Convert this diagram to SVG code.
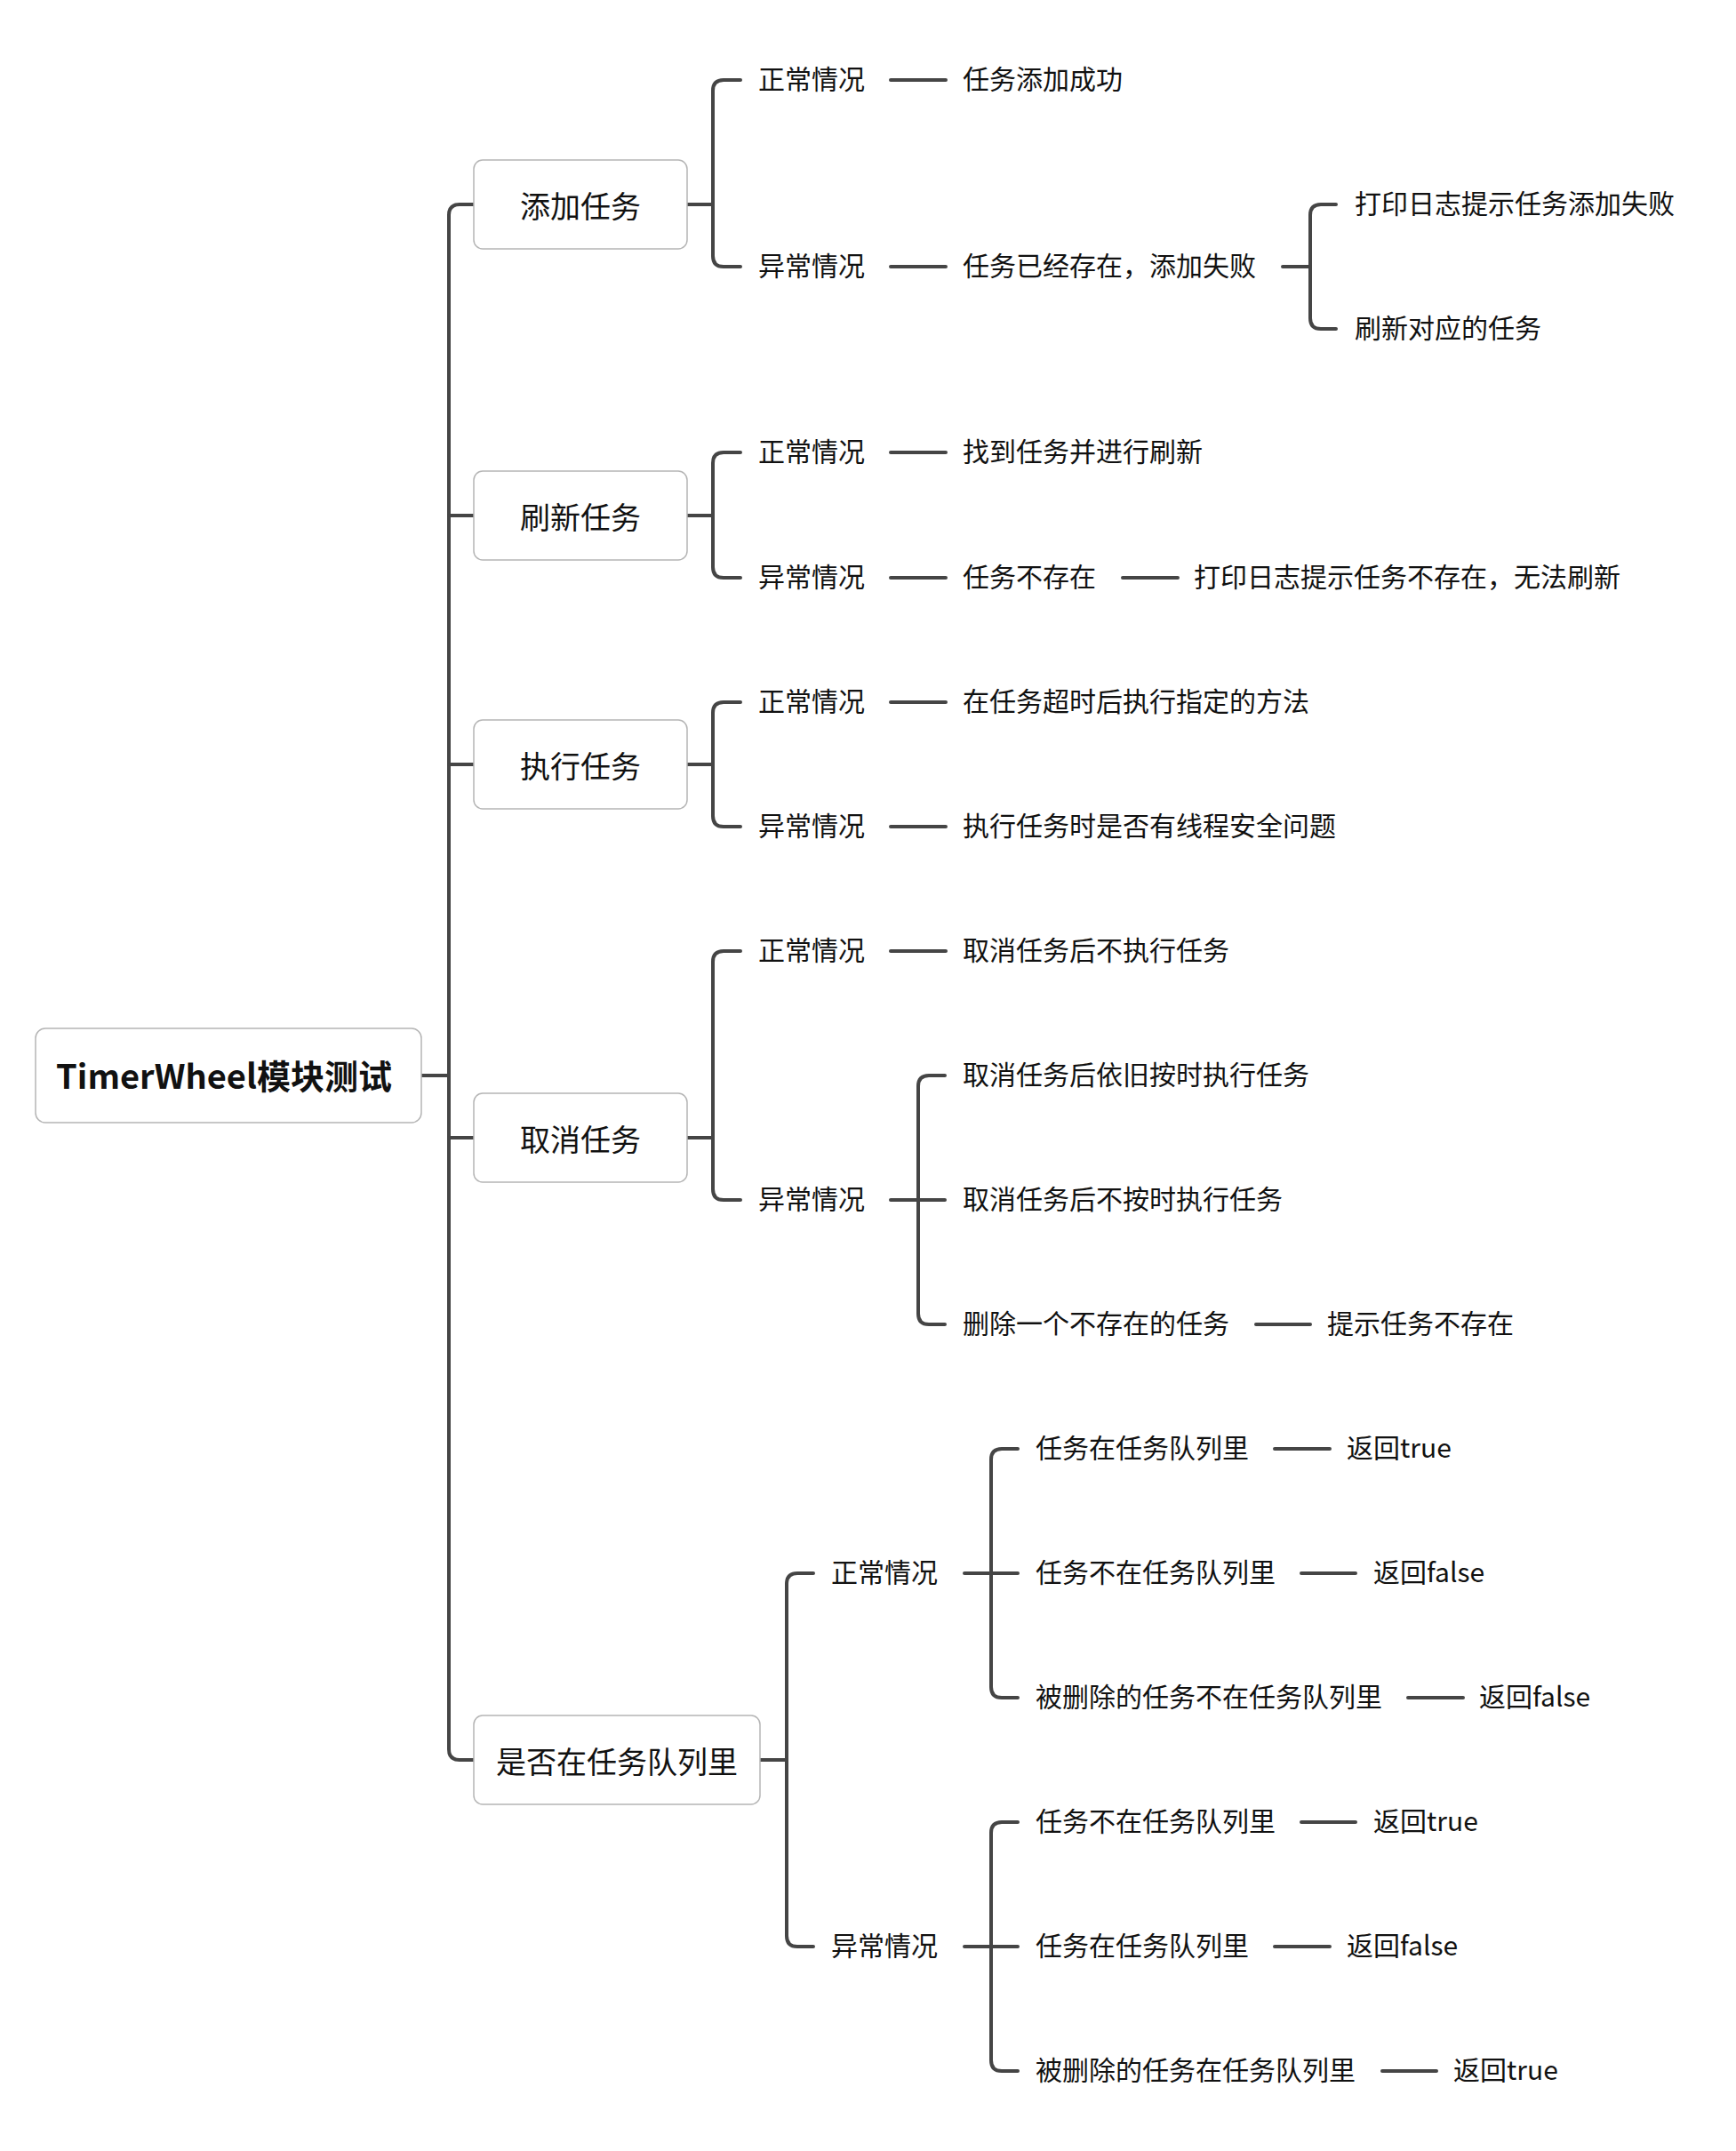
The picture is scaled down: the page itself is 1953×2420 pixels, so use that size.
<svg xmlns="http://www.w3.org/2000/svg" width="1953" height="2420" viewBox="0 0 1953 2420">
<style>
.box{fill:#fff;stroke:#b5b5b5;stroke-width:1.5}
.ln{fill:none;stroke:#454545;stroke-width:4;stroke-linecap:round;stroke-linejoin:round}
text{font-family:"Noto Sans CJK SC","Microsoft YaHei",sans-serif;fill:#111;dominant-baseline:central}
.root{font-size:38px;font-weight:bold;text-anchor:middle}
.l1{font-size:34px;text-anchor:middle}
.t{font-size:30px}
</style>
<rect width="1953" height="2420" fill="#fff"/>
<g id="connectors" class="ln">
<path d="M474,1210 H505"/>
<path d="M533,230 H517 Q505,230 505,242 V1968 Q505,1980 517,1980 H533"/>
<path d="M505,580 H533 M505,860 H533 M505,1280 H533"/>
<path d="M773,230 H802 M833,90 H814 Q802,90 802,102 V288 Q802,300 814,300 H833"/>
<path d="M1002,90 H1064 M1002,300 H1064"/>
<path d="M1443,300 H1474 M1503,230 H1486 Q1474,230 1474,242 V358 Q1474,370 1486,370 H1503"/>
<path d="M773,580 H802 M833,509 H814 Q802,509 802,521 V638 Q802,650 814,650 H833"/>
<path d="M1002,509 H1064 M1002,650 H1064 M1263,650 H1325"/>
<path d="M773,860 H802 M833,790 H814 Q802,790 802,802 V918 Q802,930 814,930 H833"/>
<path d="M1002,790 H1064 M1002,930 H1064"/>
<path d="M773,1280 H802 M833,1070 H814 Q802,1070 802,1082 V1338 Q802,1350 814,1350 H833"/>
<path d="M1002,1070 H1064"/>
<path d="M1002,1350 H1063 M1063,1210 H1045 Q1033,1210 1033,1222 V1478 Q1033,1490 1045,1490 H1063"/>
<path d="M1413,1490 H1474"/>
<path d="M855,1980 H885 M915,1770 H897 Q885,1770 885,1782 V2178 Q885,2190 897,2190 H915"/>
<path d="M1085,1770 H1145 M1145,1630 H1127 Q1115,1630 1115,1642 V1898 Q1115,1910 1127,1910 H1145"/>
<path d="M1085,2190 H1145 M1145,2050 H1127 Q1115,2050 1115,2062 V2318 Q1115,2330 1127,2330 H1145"/>
<path d="M1434,1630 H1496 M1464,1770 H1525 M1584,1910 H1646"/>
<path d="M1464,2050 H1525 M1434,2190 H1496 M1555,2330 H1616"/>
</g>
<g id="root"><rect class="box" x="40" y="1157" width="434" height="106" rx="11"/><text class="root" x="252" y="1208">TimerWheel模块测试</text></g>
<g id="add"><rect class="box" x="533" y="180" width="240" height="100" rx="10"/><text class="l1" x="653" y="230">添加任务</text></g>
<g id="add-ok"><text class="t" x="853" y="87">正常情况</text></g>
<g id="add-ok-1"><text class="t" x="1083" y="87">任务添加成功</text></g>
<g id="add-err"><text class="t" x="853" y="297">异常情况</text></g>
<g id="add-err-1"><text class="t" x="1083" y="297">任务已经存在，添加失败</text></g>
<g id="add-err-1a"><text class="t" x="1524" y="227">打印日志提示任务添加失败</text></g>
<g id="add-err-1b"><text class="t" x="1524" y="367">刷新对应的任务</text></g>
<g id="refresh"><rect class="box" x="533" y="530" width="240" height="100" rx="10"/><text class="l1" x="653" y="580">刷新任务</text></g>
<g id="refresh-ok"><text class="t" x="853" y="506">正常情况</text></g>
<g id="refresh-ok-1"><text class="t" x="1083" y="506">找到任务并进行刷新</text></g>
<g id="refresh-err"><text class="t" x="853" y="647">异常情况</text></g>
<g id="refresh-err-1"><text class="t" x="1083" y="647">任务不存在</text></g>
<g id="refresh-err-1a"><text class="t" x="1343" y="647">打印日志提示任务不存在，无法刷新</text></g>
<g id="exec"><rect class="box" x="533" y="810" width="240" height="100" rx="10"/><text class="l1" x="653" y="860">执行任务</text></g>
<g id="exec-ok"><text class="t" x="853" y="787">正常情况</text></g>
<g id="exec-ok-1"><text class="t" x="1083" y="787">在任务超时后执行指定的方法</text></g>
<g id="exec-err"><text class="t" x="853" y="927">异常情况</text></g>
<g id="exec-err-1"><text class="t" x="1083" y="927">执行任务时是否有线程安全问题</text></g>
<g id="cancel"><rect class="box" x="533" y="1230" width="240" height="100" rx="10"/><text class="l1" x="653" y="1280">取消任务</text></g>
<g id="cancel-ok"><text class="t" x="853" y="1067">正常情况</text></g>
<g id="cancel-ok-1"><text class="t" x="1083" y="1067">取消任务后不执行任务</text></g>
<g id="cancel-err"><text class="t" x="853" y="1347">异常情况</text></g>
<g id="cancel-err-1"><text class="t" x="1083" y="1207">取消任务后依旧按时执行任务</text></g>
<g id="cancel-err-2"><text class="t" x="1083" y="1347">取消任务后不按时执行任务</text></g>
<g id="cancel-err-3"><text class="t" x="1083" y="1487">删除一个不存在的任务</text></g>
<g id="cancel-err-3a"><text class="t" x="1493" y="1487">提示任务不存在</text></g>
<g id="inqueue"><rect class="box" x="533" y="1930" width="322" height="100" rx="10"/><text class="l1" x="694" y="1980">是否在任务队列里</text></g>
<g id="inqueue-ok"><text class="t" x="935" y="1767">正常情况</text></g>
<g id="inqueue-ok-1"><text class="t" x="1165" y="1627">任务在任务队列里</text></g>
<g id="inqueue-ok-1a"><text class="t" x="1515" y="1627">返回true</text></g>
<g id="inqueue-ok-2"><text class="t" x="1165" y="1767">任务不在任务队列里</text></g>
<g id="inqueue-ok-2a"><text class="t" x="1545" y="1767">返回false</text></g>
<g id="inqueue-ok-3"><text class="t" x="1165" y="1907">被删除的任务不在任务队列里</text></g>
<g id="inqueue-ok-3a"><text class="t" x="1664" y="1907">返回false</text></g>
<g id="inqueue-err"><text class="t" x="935" y="2187">异常情况</text></g>
<g id="inqueue-err-1"><text class="t" x="1165" y="2047">任务不在任务队列里</text></g>
<g id="inqueue-err-1a"><text class="t" x="1545" y="2047">返回true</text></g>
<g id="inqueue-err-2"><text class="t" x="1165" y="2187">任务在任务队列里</text></g>
<g id="inqueue-err-2a"><text class="t" x="1515" y="2187">返回false</text></g>
<g id="inqueue-err-3"><text class="t" x="1165" y="2327">被删除的任务在任务队列里</text></g>
<g id="inqueue-err-3a"><text class="t" x="1635" y="2327">返回true</text></g>
</svg>
